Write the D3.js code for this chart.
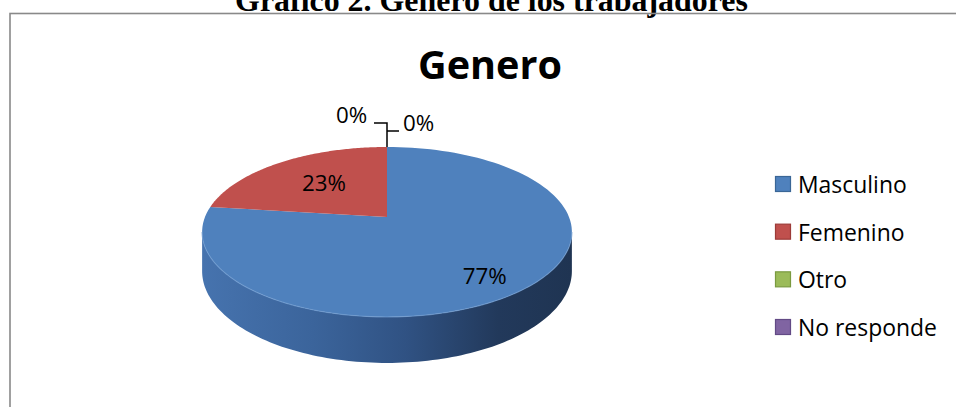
<!DOCTYPE html>
<html><head><meta charset="utf-8">
<script src="https://cdn.jsdelivr.net/npm/d3@7/dist/d3.min.js"></script>
<style>html,body{margin:0;padding:0;background:#fff;overflow:hidden}</style>
</head><body>
<svg id="chart" width="956" height="407"></svg>
<script>
// ---- data ----
const categories = ["Masculino", "Femenino", "Otro", "No responde"];
const values = [77, 23, 0, 0];
const labels = ["77%", "23%", "0%", "0%"];
const colors = ["#4f81bd", "#c0504d", "#9bbb59", "#8064a2"];
const borderColors = ["#3a6696", "#9c3b38", "#7a9a40", "#624a85"];
const pageTitle = "Gráfico 2. Género de los trabajadores";
const chartTitle = "Genero";

const svg = d3.select("#chart");

// fit text to a measured width
function fit(sel, base, target) {
  sel.style("font-size", base + "px");
  const w = sel.node().getComputedTextLength();
  const s = base * target / w;
  sel.style("font-size", s + "px");
  return s;
}

// page title (cut at top, as in the reference)
const pt = svg.append("text").attr("x", 491.5).attr("y", 11).attr("text-anchor", "middle")
  .attr("font-family", "Liberation Serif").attr("font-weight", "bold").text(pageTitle);
fit(pt, 26, 513);

// chart border
svg.append("rect").attr("x", 10).attr("y", 13.5).attr("width", 1000).attr("height", 500)
  .attr("fill", "none").attr("stroke", "#898989").attr("stroke-width", 1.6);

// chart title
const ct = svg.append("text").attr("x", 490).attr("y", 79).attr("text-anchor", "middle")
  .attr("font-family", "Open Sans").attr("font-weight", "bold").attr("fill", "#000").text(chartTitle);
fit(ct, 42, 144);

// ---- 3D pie with perspective ----
const cx = 387, cy = 217, R = 182, A = 82.35, K = -0.176, Dh = 37.9;
function proj(a, f = 1) {          // a: clockwise angle from 12 o'clock
  const u = Math.sin(a) * f, w = -Math.cos(a) * f;
  const d = 1 + K * w;
  return [cx + R * u / d, cy + A * w / d, d];
}
const pie = d3.pie().sort(null).value(d => d)(values);

const defs = svg.append("defs");
const g1 = defs.append("linearGradient").attr("id", "side").attr("gradientUnits", "userSpaceOnUse")
  .attr("x1", 203).attr("x2", 572).attr("y1", 0).attr("y2", 0);
[[0, "#4673ae"], [0.3, "#3b649b"], [0.55, "#305283"], [0.8, "#22395b"], [1, "#1f3452"]]
  .forEach(s => g1.append("stop").attr("offset", s[0]).attr("stop-color", s[1]));
const g2 = defs.append("linearGradient").attr("id", "sideR").attr("gradientUnits", "userSpaceOnUse")
  .attr("x1", 203).attr("x2", 572).attr("y1", 0).attr("y2", 0);
[[0, "#b24a47"], [0.5, "#8e3a38"], [1, "#5e2625"]]
  .forEach(s => g2.append("stop").attr("offset", s[0]).attr("stop-color", s[1]));

const aR = Math.acos(K), aL = 2 * Math.PI - Math.acos(K);
const N = 120;
const sideG = svg.append("g"), topG = svg.append("g");
pie.forEach((p, i) => {
  if (p.endAngle - p.startAngle <= 0) return;
  const s0 = Math.max(p.startAngle, aR), s1 = Math.min(p.endAngle, aL);
  if (s1 > s0) {
    const top = [], bot = [];
    for (let j = 0; j <= N; j++) {
      const a = s0 + (s1 - s0) * j / N;
      const q = proj(a);
      top.push([q[0], q[1]]);
      bot.push([q[0], q[1] + Dh / q[2]]);
    }
    sideG.append("path").attr("d", d3.line()(top.concat(bot.reverse())) + "Z")
      .attr("fill", i === 0 ? "url(#side)" : "url(#sideR)");
  }
  const pts = [[cx, cy]];
  for (let j = 0; j <= N; j++) {
    const q = proj(p.startAngle + (p.endAngle - p.startAngle) * j / N);
    pts.push([q[0], q[1]]);
  }
  topG.append("path").attr("d", d3.line()(pts) + "Z").attr("fill", colors[i]);
});
// rim highlight
const rim = [];
for (let j = 0; j <= N; j++) { const q = proj(aR + (aL - aR) * j / N); rim.push([q[0], q[1]]); }
topG.append("path").attr("d", d3.line()(rim)).attr("fill", "none")
  .attr("stroke", "#6f9bd0").attr("stroke-width", 1.2).attr("opacity", 0.7);

// ---- data labels ----
const labelFont = "Open Sans";
const nudge = [[5, 11], [14, 5]];
let lfs = 22;
pie.forEach((p, i) => {
  if (p.endAngle - p.startAngle <= 0) return;
  const q = proj((p.startAngle + p.endAngle) / 2, 0.7);
  const t = svg.append("text").attr("x", q[0] + nudge[i][0]).attr("y", q[1] + nudge[i][1])
    .attr("text-anchor", "middle").attr("dominant-baseline", "central")
    .attr("font-family", labelFont).attr("fill", "#000").text(labels[i]);
  lfs = fit(t, 22, 44);
});
// zero-value labels with leader lines
const topPt = proj(0);
const zl = [
  { i: 2, x: topPt[0] - 51, y: 123, lx1: topPt[0] - 13, ly: 123 },
  { i: 3, x: topPt[0] + 16, y: 131, lx1: topPt[0] + 12, ly: 131 }
];
const leader = svg.append("g").attr("stroke", "#000").attr("stroke-width", 1.5).attr("fill", "none");
leader.append("path").attr("d", `M${zl[0].lx1},${zl[0].ly}H${topPt[0]}V${topPt[1]}`);
leader.append("path").attr("d", `M${topPt[0]},${zl[1].ly}H${zl[1].lx1}`);
zl.forEach(z => {
  svg.append("text").attr("x", z.x).attr("y", z.y).attr("text-anchor", "start")
    .attr("font-family", labelFont).style("font-size", lfs + "px").attr("fill", "#000")
    .text(labels[z.i]);
});

// ---- legend ----
const ly = d3.scalePoint().domain(categories).range([184, 327]);
const lg = svg.append("g");
const probe = lg.append("text").attr("font-family", labelFont).text("No responde");
const legFs = fit(probe, 22, 139);
probe.remove();
categories.forEach((c, i) => {
  lg.append("rect").attr("x", 775.5).attr("y", ly(c) - 7.5).attr("width", 15).attr("height", 15)
    .attr("fill", colors[i]).attr("stroke", borderColors[i]).attr("stroke-width", 1.2);
  lg.append("text").attr("x", 798).attr("y", ly(c)).attr("dominant-baseline", "central")
    .attr("font-family", labelFont).style("font-size", legFs + "px").attr("fill", "#000").text(c);
});
</script>
</body></html>
